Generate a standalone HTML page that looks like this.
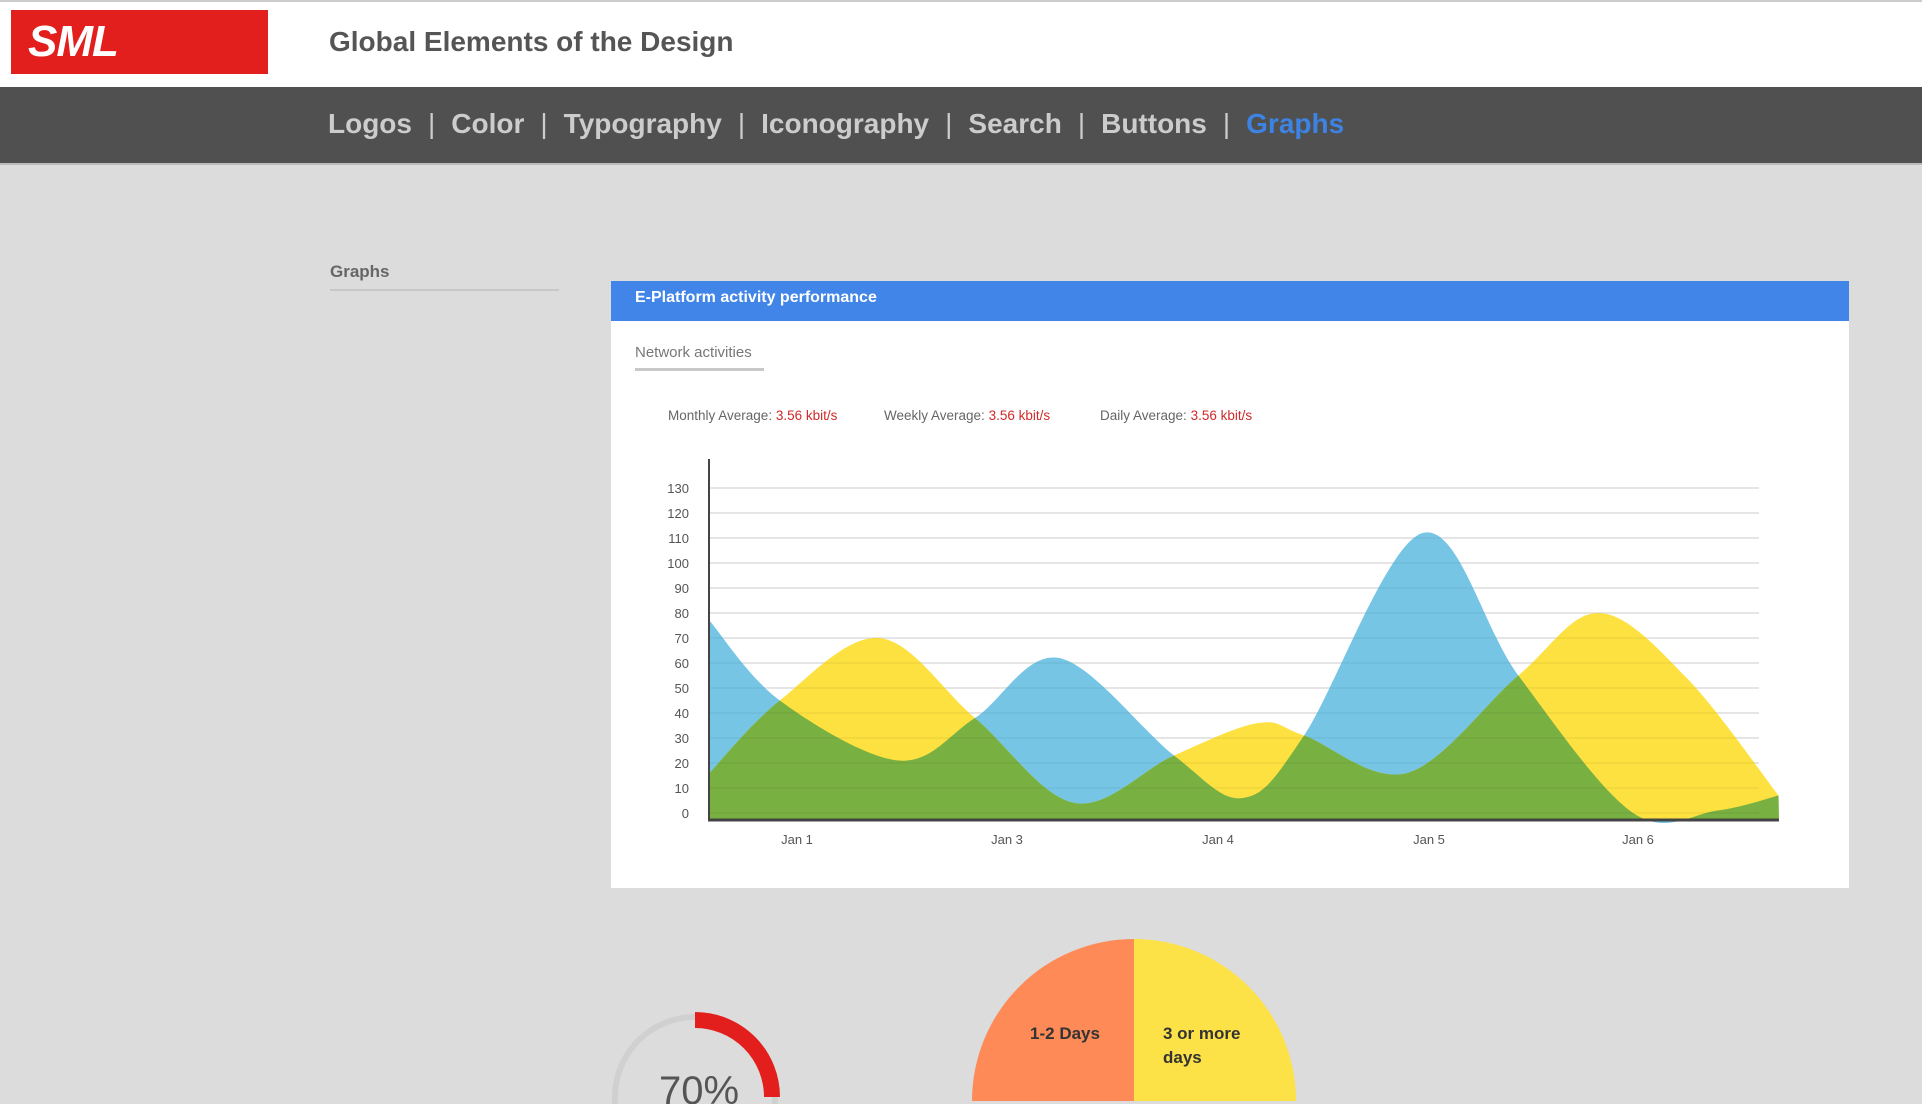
<!DOCTYPE html>
<html><head><meta charset="utf-8"><style>
*{margin:0;padding:0;box-sizing:border-box}
html,body{width:1922px;height:1104px;overflow:hidden}
body{background:#dcdcdc;font-family:"Liberation Sans",sans-serif;position:relative}
.a{position:absolute;white-space:nowrap}
</style></head><body>
<div class="a" style="left:0;top:0;width:1922px;height:87px;background:#fff;border-top:2px solid #ccc"></div>
<div class="a" style="left:11px;top:10px;width:257px;height:64px;background:#e21f1c"></div>
<div class="a" style="left:28px;top:17px;color:#fff;font-size:44px;font-weight:bold;font-style:italic;letter-spacing:-1px">SML</div>
<div class="a" style="left:329px;top:26px;color:#555;font-size:28px;font-weight:bold">Global Elements of the Design</div>
<div class="a" style="left:0;top:87px;width:1922px;height:78px;background:#505050;border-bottom:2px solid #bbb"></div>
<div class="a" style="left:328px;top:108px;color:#ccc;font-size:28px;font-weight:bold">
<span>Logos</span><span style="margin:0 16px;font-weight:normal">|</span><span>Color</span><span style="margin:0 16px;font-weight:normal">|</span><span>Typography</span><span style="margin:0 16px;font-weight:normal">|</span><span>Iconography</span><span style="margin:0 16px;font-weight:normal">|</span><span>Search</span><span style="margin:0 16px;font-weight:normal">|</span><span>Buttons</span><span style="margin:0 16px;font-weight:normal">|</span><span style="color:#3d83e3">Graphs</span></div>
<div class="a" style="left:330px;top:262px;color:#666;font-size:17px;font-weight:bold">Graphs</div>
<div class="a" style="left:330px;top:289px;width:229px;height:2px;background:#c8c8c8"></div>
<div class="a" style="left:611px;top:281px;width:1238px;height:607px;background:#fff"></div>
<div class="a" style="left:611px;top:281px;width:1238px;height:40px;background:#4285e8"></div>
<div class="a" style="left:635px;top:289px;color:#fff;font-size:16px;font-weight:bold">E-Platform activity performance</div>
<div class="a" style="left:635px;top:344px;color:#777;font-size:15px">Network activities</div>
<div class="a" style="left:635px;top:368px;width:129px;height:3px;background:#c8c8c8"></div>
<div class="a" style="left:668px;top:408px;color:#666;font-size:13.5px">Monthly Average: <span style="color:#d02a2a">3.56 kbit/s</span></div>
<div class="a" style="left:884px;top:408px;color:#666;font-size:13.5px">Weekly Average: <span style="color:#d02a2a">3.56 kbit/s</span></div>
<div class="a" style="left:1100px;top:408px;color:#666;font-size:13.5px">Daily Average: <span style="color:#d02a2a">3.56 kbit/s</span></div>
<svg class="a" style="left:0;top:0" width="1922" height="1104" id="s">
<defs><clipPath id="cb"><path id="bclip"/></clipPath></defs>
<g id="grid"></g>
<path id="bp" fill="#76c5e5"/>
<path id="yp" fill="#fde140"/>
<path id="gp" fill="#78b042" clip-path="url(#cb)"/>
<g id="grid2"></g>
<line x1="709" y1="459" x2="709" y2="821" stroke="#444" stroke-width="2"/>
<line x1="708" y1="820" x2="1779" y2="820" stroke="#444" stroke-width="3"/>
<g id="lbl" font-family="Liberation Sans" font-size="13" fill="#555"></g>
<circle cx="695" cy="1097" r="80" fill="none" stroke="#d0d0d0" stroke-width="6"/>
<path d="M695 1020 A77 77 0 0 1 772 1097" fill="none" stroke="#e21f1c" stroke-width="16"/>
<text x="699" y="1104" font-family="Liberation Sans" font-size="40" fill="#555" text-anchor="middle">70%</text>
<path d="M1134 1101 L1134 939 A162 162 0 0 0 972 1101 Z" fill="#fe8a58"/>
<path d="M1134 1101 L1134 939 A162 162 0 0 1 1296 1101 Z" fill="#fde247"/>
<text x="1065" y="1039" font-family="Liberation Sans" font-size="17" font-weight="bold" fill="#333" text-anchor="middle">1-2 Days</text>
<text x="1163" y="1039" font-family="Liberation Sans" font-size="17" font-weight="bold" fill="#333">3 or more</text>
<text x="1163" y="1063" font-family="Liberation Sans" font-size="17" font-weight="bold" fill="#333">days</text>
</svg>
<script>
function cr(p){var d="M"+p[0][0]+" "+p[0][1];for(var i=0;i<p.length-1;i++){var p0=p[i-1]||p[i],p1=p[i],p2=p[i+1],p3=p[i+2]||p2;var t=6;d+=" C"+(p1[0]+(p2[0]-p0[0])/t)+" "+(p1[1]+(p2[1]-p0[1])/t)+" "+(p2[0]-(p3[0]-p1[0])/t)+" "+(p2[1]-(p3[1]-p1[1])/t)+" "+p2[0]+" "+p2[1];}return d;}
function X(px){return 600+px/1.3067}function Y(v){return 813-2.5*v}
var B=[[143,77],[235,45],[390,21],[490,38],[600,62],[750,23],[840,6],[920,31],[1075,112],[1200,55],[1350,0],[1460,1],[1540,7]].map(function(a){return[X(a[0]),Y(a[1])]});
var Yl=[[143,16],[235,45],[365,70],[490,38],[620,4],[750,23],[860,36],[920,31],[1055,16],[1200,55],[1305,80],[1420,54],[1540,7]].map(function(a){return[X(a[0]),Y(a[1])]});
function close(d){return d+" L1779 819 L709 819 Z"}
var bd=close(cr(B)),yd=close(cr(Yl));
document.getElementById("bp").setAttribute("d",bd);
document.getElementById("bclip").setAttribute("d",bd);
document.getElementById("yp").setAttribute("d",yd);
document.getElementById("gp").setAttribute("d",yd);
var g="",g2="",l="";
for(var v=0;v<=130;v+=10){var y=Y(v);g+='<line x1="709" x2="1759" y1="'+y+'" y2="'+y+'" stroke="#efefef" stroke-width="2"/>';g2+='<line x1="709" x2="1759" y1="'+y+'" y2="'+y+'" stroke="rgba(0,0,0,0.04)" stroke-width="2"/>';l+='<text x="689" y="'+(y+5)+'" text-anchor="end">'+v+'</text>';}
var xs=[[797,"Jan 1"],[1007,"Jan 3"],[1218,"Jan 4"],[1429,"Jan 5"],[1638,"Jan 6"]];
xs.forEach(function(a){l+='<text x="'+a[0]+'" y="844" text-anchor="middle">'+a[1]+'</text>'});
document.getElementById("grid").innerHTML=g;document.getElementById("grid2").innerHTML=g2;document.getElementById("lbl").innerHTML=l;
</script>
</body></html>
